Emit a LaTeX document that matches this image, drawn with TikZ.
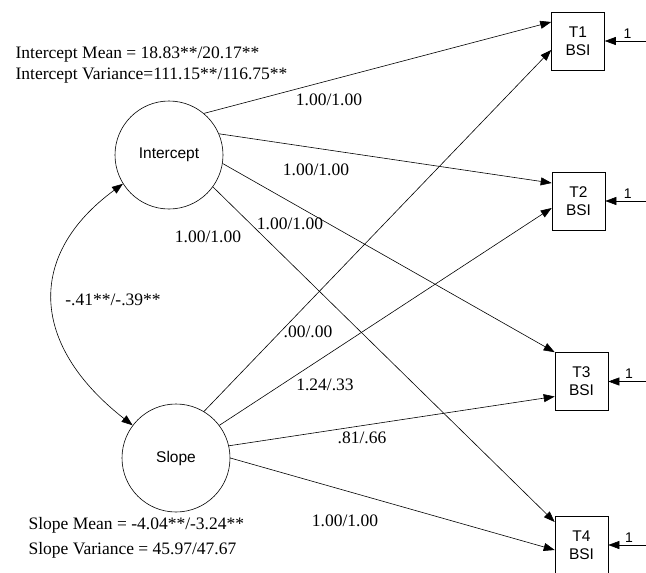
\documentclass[tikz,border=0pt]{standalone}
\usepackage{fontspec}
\setmainfont{Liberation Serif}
\setsansfont{Liberation Sans}
\usetikzlibrary{positioning,arrows.meta,calc}

\begin{document}
\begin{tikzpicture}[x=1pt,y=-1pt, line width=0.6pt,
  every node/.style={font=\fontsize{17.5}{21}\selectfont},
  latent/.style={draw, circle, minimum size=108pt, inner sep=0pt, font=\sffamily\fontsize{15.5}{18}\selectfont},
  obsbox/.style={draw, minimum width=53pt, minimum height=58pt, inner sep=0pt, align=center, font=\sffamily\fontsize{15.5}{18}\selectfont},
  load/.style={-{Triangle[length=11pt,width=8pt]}}]
  \useasboundingbox (0,0) rectangle (646,573);
  % latent factors and observed scores
  \node[latent] (int) at (169,155) {Intercept};
  \node[latent] (slope) at (176,458) {Slope};
  \node[obsbox] (t1) at (578,41) {T1\\BSI};
  \node[obsbox] (t2) at (578.5,201) {T2\\BSI};
  \node[obsbox] (t3) at (581.5,381.5) {T3\\BSI};
  \node[obsbox] (t4) at (581.5,545) {T4\\BSI};
  % loadings
  \draw[load] (int.50) -- ([yshift=19pt]t1.west);
  \draw[load] (int.23) -- ([yshift=18pt]t2.west);
  \draw[load] (int.-9) -- (t3.north west);
  \draw[load] (int.-36) -- ([yshift=23pt]t4.west);
  \draw[load] (slope.59) -- ([yshift=-9pt]t1.west);
  \draw[load] (slope.37) -- ([yshift=-7pt]t2.west);
  \draw[load] (slope.13) -- ([yshift=-15pt]t3.west);
  \draw[load] (slope.0) -- ([yshift=-5pt]t4.west);
  \node (l1) at (329,100) {1.00/1.00};
  \node (l2) at (316,170) {1.00/1.00};
  \node (l3) at (290,224) {1.00/1.00};
  \node (l4) at (208,237) {1.00/1.00};
  \node (s1) at (308,332) {.00/.00};
  \node (s2) at (325,385) {1.24/.33};
  \node (s3) at (362,438) {.81/.66};
  \node (s4) at (345,521) {1.00/1.00};
  % covariance
  \draw[{Triangle[length=11pt,width=8pt]}-{Triangle[length=11pt,width=8pt]}]
    (int.212) .. controls (26,255) and (30,345) .. (slope.143);
  \node (cov) at (113,300) {-.41**/-.39**};
  % residuals
  \coordinate (edge) at (646,0);
  \foreach \t in {t1,t2,t3,t4}
    \draw[load] (\t.east -| edge) -- node[above=-1pt, pos=0.45, font=\sffamily\fontsize{14}{16}\selectfont]{1} (\t.east);
  % means and variances
  \node[anchor=base west] (imean) at (12,58) {Intercept Mean = 18.83**/20.17**};
  \node[anchor=base west] (ivar) at (12,79) {Intercept Variance=111.15**/116.75**};
  \node[anchor=base west] (smean) at (25,529) {Slope Mean = -4.04**/-3.24**};
  \node[anchor=base west] (svar) at (25,554) {Slope Variance = 45.97/47.67};
\end{tikzpicture}
\end{document}
